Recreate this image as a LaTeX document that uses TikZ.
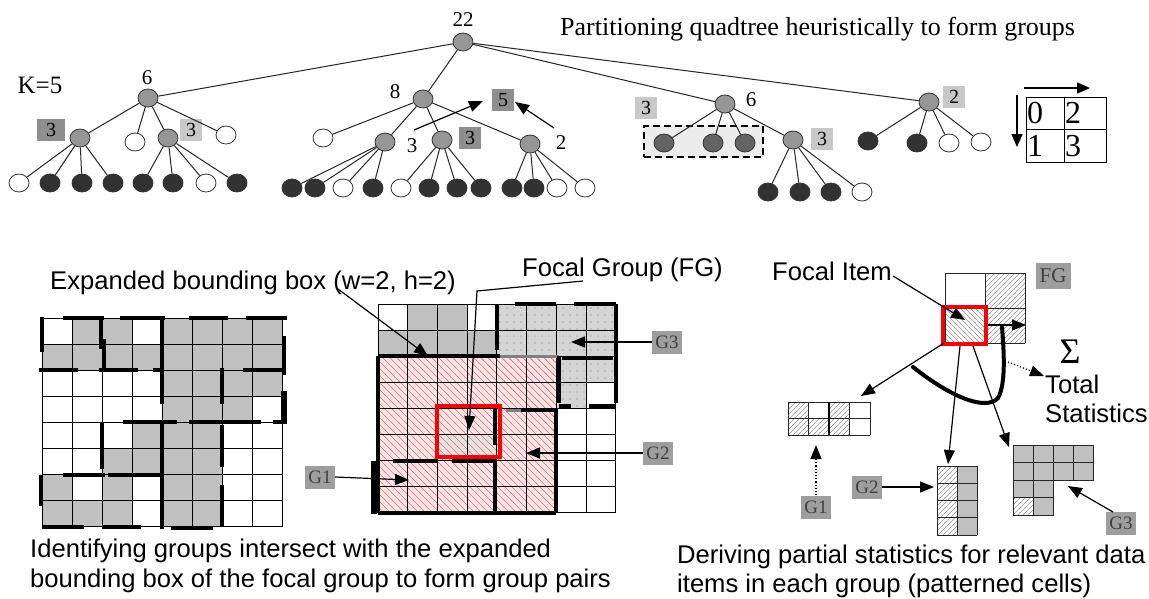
\documentclass[tikz,border=0pt]{standalone}
\usepackage{fontspec}
\setmainfont{Liberation Serif}
\setsansfont{Liberation Sans}
\usetikzlibrary{arrows.meta,patterns,shapes.geometric}
\definecolor{ngray}{RGB}{150,150,150}
\definecolor{nblack}{RGB}{50,50,50}
\definecolor{nmid}{RGB}{100,100,100}
\definecolor{boxdark}{RGB}{142,142,142}
\definecolor{boxlight}{RGB}{200,200,200}
\definecolor{gboxc}{RGB}{158,158,158}
\definecolor{cellgray}{RGB}{192,192,192}
\definecolor{dotgray}{RGB}{212,212,212}
\definecolor{pinkbg}{RGB}{248,230,230}
\definecolor{hatchred}{RGB}{220,115,115}
\pgfdeclarepatternformonly{fwdhatch}{\pgfqpoint{-1pt}{-1pt}}{\pgfqpoint{6pt}{6pt}}{\pgfqpoint{5pt}{5pt}}{\pgfsetlinewidth{0.6pt}\pgfpathmoveto{\pgfqpoint{-0.5pt}{-0.5pt}}\pgfpathlineto{\pgfqpoint{5.5pt}{5.5pt}}\pgfusepath{stroke}}
\pgfdeclarepatternformonly{bwdhatch}{\pgfqpoint{-1pt}{-1pt}}{\pgfqpoint{6pt}{6pt}}{\pgfqpoint{5pt}{5pt}}{\pgfsetlinewidth{0.6pt}\pgfpathmoveto{\pgfqpoint{-0.5pt}{5.5pt}}\pgfpathlineto{\pgfqpoint{5.5pt}{-0.5pt}}\pgfusepath{stroke}}
\pgfdeclarepatternformonly{redhatch}{\pgfqpoint{-1pt}{-1pt}}{\pgfqpoint{8pt}{8pt}}{\pgfqpoint{7pt}{7pt}}{\pgfsetlinewidth{0.7pt}\pgfpathmoveto{\pgfqpoint{-0.5pt}{7.5pt}}\pgfpathlineto{\pgfqpoint{7.5pt}{-0.5pt}}\pgfusepath{stroke}}
\pgfdeclarepatternformonly{sparsedots}{\pgfqpoint{-1pt}{-1pt}}{\pgfqpoint{8pt}{8pt}}{\pgfqpoint{7pt}{7pt}}{\pgfpathcircle{\pgfqpoint{3pt}{3pt}}{0.55pt}\pgfusepath{fill}}
\newcommand{\thickH}[4][]{\draw[thickseg,#1] ({\gx+\gw*(#2)},{\gy+\gh*(#4)}) -- ({\gx+\gw*(#3)},{\gy+\gh*(#4)});}
\newcommand{\thickV}[4][]{\draw[thickseg,#1] ({\gx+\gw*(#4)},{\gy+\gh*(#2)}) -- ({\gx+\gw*(#4)},{\gy+\gh*(#3)});}
\newcommand{\cellfill}[3]{\fill[#1] ({\gx+\gw*(#2)},{\gy+\gh*(#3)}) rectangle ++(\gw,\gh);}
\newcommand{\cellpat}[3]{\path[#1] ({\gx+\gw*(#2)},{\gy+\gh*(#3)}) rectangle ++(\gw,\gh);}
\newcommand{\gridlines}[3][gridline]{\foreach \i in {0,...,#2}{\draw[#1] ({\gx+\gw*\i},\gy) -- ++(0,{#3*\gh});}\foreach \j in {0,...,#3}{\draw[#1] (\gx,{\gy+\gh*\j}) -- ++({#2*\gw},0);}}
\tikzset{
  edge/.style={line width=1pt, black!85},
  gn/.style={ellipse, draw=black!80, line width=0.8pt, fill=ngray, minimum width=20pt, minimum height=18pt, inner sep=0pt},
  bn/.style={gn, fill=nblack},
  wn/.style={gn, fill=white},
  mn/.style={gn, fill=nmid},
  dbox/.style={fill=boxdark, minimum width=22pt, minimum height=22pt, inner sep=0pt, font=\fontsize{20}{20}\selectfont},
  lbox/.style={dbox, fill=boxlight},
  num/.style={font=\fontsize{21}{21}\selectfont, inner sep=0pt},
  gbox/.style={fill=gboxc, minimum width=30pt, minimum height=23pt, inner sep=0pt, font=\fontsize{19}{19}\selectfont, text=black!75},
  sans/.style={font=\sffamily\fontsize{25.6}{30}\selectfont, inner sep=0pt, anchor=base west},
  arr/.style={line width=1.2pt, -{Triangle[length=14pt,width=11pt]}},
  darr/.style={line width=1.2pt, dotted, -{Triangle[length=14pt,width=11pt]}},
  thickseg/.style={line width=4pt, line cap=butt},
  gridline/.style={line width=0.8pt},
  smallgrid/.style={line width=0.8pt, black!85},
}
\begin{document}
\begin{tikzpicture}[x=1pt,y=-1pt]
\useasboundingbox (0,0) rectangle (1149,598);
\fill[white] (0,0) rectangle (1149,598);

% ================= TOP TREE =================
\node[anchor=base west, inner sep=0pt, font=\fontsize{26}{26}\selectfont] (title) at (560,35) {Partitioning quadtree heuristically to form groups};
\node[inner sep=0pt, font=\fontsize{25}{25}\selectfont] (k5) at (40,85) {K=5};

\node[gn] (root) at (463,42) {};
\node[num] (l22) at (463,20) {22};

% left subtree
\node[gn] (a) at (148,98) {};
\node[num] (la) at (147,78) {6};
\node[gn] (a1) at (80,138) {};
\node[dbox, minimum width=28pt] (la1) at (51,130) {3};
\node[wn] (a2) at (135,142) {};
\node[gn] (a3) at (168,138) {};
\node[lbox] (la3) at (191,130) {3};
\node[wn] (a4) at (226,135) {};
\foreach \n/\x/\s in {a11/19/wn,a12/50/bn,a13/82/bn,a14/113/bn}{\node[\s] (\n) at (\x,183) {}; \draw[edge] (a1) -- (\n);}
\foreach \n/\x/\s in {a31/143/bn,a32/173/bn,a33/206/wn,a34/237/bn}{\node[\s] (\n) at (\x,183) {}; \draw[edge] (a3) -- (\n);}
\foreach \n in {a1,a2,a3,a4}{\draw[edge] (a) -- (\n);}

% middle subtree
\node[gn] (b) at (423,99) {};
\node[num] (lb) at (395,92) {8};
\node[wn] (b1) at (323,138) {};
\node[gn] (b2) at (385,142) {};
\node[gn] (b3) at (442,140) {};
\node[gn] (b4) at (530,144) {};
\node[num] (lb2) at (412,146) {3};
\node[dbox] (lb3) at (470,138) {3};
\node[num] (lb4) at (561,143) {2};
\node[dbox] (five) at (503,100) {5};
\foreach \n in {b1,b2,b3,b4}{\draw[edge] (b) -- (\n);}
\foreach \n/\x/\s in {b21/292/bn,b22/315/bn,b23/343/wn,b24/373/bn}{\node[\s] (\n) at (\x,188) {}; \draw[edge] (b2) -- (\n);}
\foreach \n/\x/\s in {b31/401/wn,b32/429/bn,b33/457/bn,b34/481/bn}{\node[\s] (\n) at (\x,188) {}; \draw[edge] (b3) -- (\n);}
\foreach \n/\x/\s in {b41/512/bn,b42/534/bn,b43/557/wn,b44/585/wn}{\node[\s] (\n) at (\x,188) {}; \draw[edge] (b4) -- (\n);}
\coordinate (s3) at (414,130);
\coordinate (t3) at (483,101);
\coordinate (s2) at (554,128);
\coordinate (t2) at (515,102);
\draw[arr] (s3) -- (t3);
\draw[arr] (s2) -- (t2);

% right subtree 6
\node[gn] (c) at (725,104) {};
\node[num] (lc) at (751,100) {6};
\node[lbox] (lc0) at (646,108) {3};
\node[draw, dashed, dash pattern=on 7pt off 4pt, line width=1.6pt, fill=gray!15, minimum width=119pt, minimum height=31pt, inner sep=0pt] (dbx) at (703.5,141.5) {};
\node[mn] (c1) at (664,143) {};
\node[mn] (c2) at (713,143) {};
\node[mn] (c3) at (745,143) {};
\node[gn] (c4) at (793,140) {};
\node[lbox] (lc4) at (822,139) {3};
\foreach \n in {c1,c2,c3,c4}{\draw[edge] (c) -- (\n);}
\foreach \n/\x/\s in {c41/768/bn,c42/800/bn,c43/831/bn,c44/862/wn}{\node[\s] (\n) at (\x,192) {}; \draw[edge] (c4) -- (\n);}

% right subtree 2
\node[gn] (d) at (929,102) {};
\node[lbox] (ld) at (954,97) {2};
\foreach \n/\x/\y/\s in {d1/868/141/bn,d2/917/143/bn,d3/949/143/wn,d4/981/142/wn}{\node[\s] (\n) at (\x,\y) {}; \draw[edge] (d) -- (\n);}

\foreach \n in {a,b,c,d}{\draw[edge] (root) -- (\n);}

% quadrant order box
\draw[line width=1pt] (1026,97) rectangle (1106,162);
\draw[line width=1pt] (1064,97) -- (1064,162);
\draw[line width=1pt] (1026,129) -- (1106,129);
\foreach \n/\x/\y/\t in {q0/1027/123/0,q2/1065/123/2,q1/1027/156/1,q3/1065/156/3}{\node[anchor=base west, inner sep=0pt, font=\fontsize{32}{32}\selectfont] (\n) at (\x,\y) {\t};}
\coordinate (qa1) at (1024,88);
\coordinate (qa2) at (1090,88);
\coordinate (qb1) at (1017,95);
\coordinate (qb2) at (1017,147);
\draw[line width=1.4pt, -{Triangle[length=13pt,width=11pt]}] (qa1) -- (qa2);
\draw[line width=1.4pt, -{Triangle[length=13pt,width=11pt]}] (qb1) -- (qb2);

% ================= LEFT GRID =================
\def\gx{42}\def\gy{318}\def\gw{30}\def\gh{26.1}
\foreach \c/\r in {1/0,2/0,4/0,5/0,6/0,7/0,0/1,1/1,2/1,3/1,4/1,5/1,6/1,7/1,4/2,5/2,6/2,7/2,4/3,5/3,6/3,3/4,4/4,5/4,2/5,3/5,4/5,5/5,0/6,2/6,4/6,5/6,0/7,1/7,2/7,4/7,5/7}{\cellfill{cellgray}{\c}{\r}}
\gridlines{8}{8}
\thickH{0.7}{2.05}{0} \thickH{2.6}{4.1}{0} \thickH{4.9}{6.2}{0} \thickH{6.8}{8.15}{0}
\thickV{-0.05}{1.3}{0}
\thickV{0}{1.2}{1.95} \thickV{0.8}{1.9}{2.08}
\thickV{0}{3.3}{4}
\thickV{0.7}{2.2}{8.05} \thickV[line width=6pt]{2.8}{4}{8.05}
\thickH{-0.1}{1.2}{2} \thickH{1.9}{3.2}{2} \thickH{3.7}{4}{2} \thickH{6.7}{8}{2}
\thickV{1.9}{3.3}{6}
\thickH{2.7}{4.5}{4} \thickH{4.9}{7.3}{4} \thickH{7.7}{8.15}{4}
\thickV{4}{5.8}{2}
\thickV{4}{8.1}{4}
\thickV{4.1}{5.7}{6} \thickV{6.4}{8}{6}
\thickH{0.7}{2.1}{6} \thickH{2.2}{4}{6}
\thickV{6}{7.2}{-0.05}
\thickH{0}{1.4}{8} \thickH{2}{3.3}{8} \thickH{4.3}{5.7}{8.05}

% ================= MIDDLE GRID =================
\def\gx{378}\def\gy{304}\def\gw{29.7}\def\gh{26.1}
\foreach \c/\r in {1/0,2/0,0/1,1/1,2/1,3/1}{\cellfill{cellgray}{\c}{\r}}
\foreach \c/\r in {4/0,5/0,6/0,7/0,4/1,5/1,6/1,7/1,6/2,7/2,6/3}{\cellfill{dotgray}{\c}{\r}\cellpat{pattern=sparsedots, pattern color=gray}{\c}{\r}}
\fill[pinkbg] (\gx,{\gy+2*\gh}) rectangle ++({6*\gw},{6*\gh});
\foreach \c/\r in {2/5,3/5}{\cellfill{gray!22}{\c}{\r}}
\path[pattern=redhatch, pattern color=hatchred] (\gx,{\gy+2*\gh}) rectangle ++({6*\gw},{6*\gh});
\gridlines{8}{8}
\thickV{0}{1.75}{4}
\thickH{4.6}{6}{0} \thickH{6.6}{8}{0}
\thickV{0}{3.8}{8}
\thickH{0}{4.1}{2}
\thickH[gray, line width=3pt]{4.1}{6.1}{2}
\thickH{6.2}{7.9}{2.08}
\thickV{2}{3.8}{6.1}
\thickH{6.1}{6.5}{3.9} \thickH{7.1}{8}{3.9}
\thickV{2}{8}{0}
\thickV[line width=6pt]{6}{8.05}{-0.12}
\thickH{0}{6}{8}
\thickV{4}{8}{6}
\thickH[gray, line width=3pt]{4.3}{4.8}{4.08}
\thickH{4.8}{6}{4.08}
\thickV{3.9}{5.4}{3.95}
\thickV{6}{8}{3.95}
\thickH{0.5}{2}{6} \thickH{2.5}{4}{6}
\draw[red, line width=4pt] ({\gx+2*\gw},{\gy+3.92*\gh}) rectangle ({\gx+4.1*\gw},{\gy+5.85*\gh});

% labels and arrows for middle grid
\node[sans] (ebb) at (50,289) {Expanded bounding box (w=2, h=2)};
\coordinate (ebbs) at (338,289);
\coordinate (ebbt) at (428,356);
\draw[arr] (ebbs) -- (ebbt);
\node[sans] (fgt) at (522,276) {Focal Group (FG)};
\coordinate (fgs) at (583,281);
\coordinate (fgm) at (477,291);
\coordinate (fgtip) at (469,430);
\draw[arr] (fgs) -- (fgm) -- (fgtip);
\node[gbox] (g3m) at (667,342) {G3};
\node[gbox] (g2m) at (658,453) {G2};
\node[gbox] (g1m) at (320,477) {G1};
\coordinate (g3t) at (571,342);
\coordinate (g2t) at (526,453);
\coordinate (g1t) at (409,480);
\draw[arr] (g3m.west) -- (g3t);
\draw[arr] (g2m.west) -- (g2t);
\draw[arr] (g1m.east) -- (g1t);

% ================= RIGHT PART =================
% FG grid
\def\gx{945}\def\gy{273}\def\gw{40}\def\gh{35}
\cellpat{pattern=fwdhatch, pattern color=gray!80}{1}{0}
\cellpat{pattern=fwdhatch, pattern color=gray!80}{1}{1}
\cellpat{pattern=bwdhatch, pattern color=gray!80}{0}{1}
\gridlines[smallgrid]{2}{2}
\draw[red, line width=4pt] (943,307) rectangle (986,344);
\node[gbox, minimum width=35pt, minimum height=26pt, font=\fontsize{21}{21}\selectfont] (fgl) at (1053,276) {FG};
\node[sans] (fit) at (772,280) {Focal Item};
\coordinate (fis) at (893,276);
\coordinate (fitip) at (965,320);
\draw[arr] (fis) -- (fitip);

% G1 grid
\def\gx{788}\def\gy{402}\def\gw{20.5}\def\gh{16.5}
\foreach \c/\r in {0/0,2/0,0/1,1/1,2/1}{\cellpat{pattern=fwdhatch, pattern color=gray!80}{\c}{\r}}
\gridlines[smallgrid]{4}{2}
\draw[line width=2pt] (829,402) -- (829,435);
\node[gbox] (g1r) at (816,507) {G1};
\coordinate (g1rt) at (816,445);
\draw[darr] (g1r.north) -- (g1rt);

% G2 grid
\def\gx{937}\def\gy{466}\def\gw{20}\def\gh{17.25}
\foreach \r in {0,1,2,3}{\cellpat{pattern=fwdhatch, pattern color=gray!80}{0}{\r}\cellfill{cellgray}{1}{\r}}
\gridlines[smallgrid]{2}{4}
\node[gbox] (g2r) at (867,487) {G2};
\coordinate (g2rt) at (934,487);
\draw[arr] (g2r.east) -- (g2rt);

% G3 grid
\def\gx{1013}\def\gy{445}\def\gw{20}\def\gh{17.5}
\foreach \c/\r in {0/0,1/0,2/0,3/0,0/1,1/1,2/1,3/1,0/2,1/2,1/3}{\cellfill{cellgray}{\c}{\r}}
\cellpat{pattern=fwdhatch, pattern color=gray!80}{0}{3}
\draw[smallgrid] (1013,445) rectangle (1093,480);
\draw[smallgrid] (1013,462.5) -- (1093,462.5);
\foreach \x in {1033,1053,1073}{\draw[smallgrid] (\x,445) -- (\x,480);}
\draw[smallgrid] (1013,480) rectangle (1053,515);
\draw[smallgrid] (1013,497.5) -- (1053,497.5);
\draw[smallgrid] (1033,480) -- (1033,515);
\node[gbox] (g3r) at (1121,523) {G3};
\coordinate (g3rs) at (1113,512);
\coordinate (g3rt) at (1068,486);
\draw[arr] (g3rs) -- (g3rt);

% arrows from focal item
\coordinate (fa0) at (944,343);
\coordinate (fa1) at (960,346);
\coordinate (fa2) at (973,346);
\coordinate (fa0t) at (861,396);
\coordinate (fa1t) at (948,464);
\coordinate (fa2t) at (1009,447);
\draw[arr] (fa0) -- (fa0t);
\draw[arr] (fa1) -- (fa1t);
\draw[arr] (fa2) -- (fa2t);

% summation curve and arrows
\coordinate (cv0) at (913,367);
\coordinate (cv1) at (998,398);
\coordinate (cv2) at (1002,327);
\draw[line width=4pt, line cap=round] (cv0) .. controls (948,395) and (985,412) .. (cv1) .. controls (1006,384) and (1004,352) .. (cv2);
\coordinate (sa0) at (988,325);
\coordinate (sa1) at (1026,325);
\draw[arr] (sa0) -- (sa1);
\node[inner sep=0pt, font=\fontsize{36}{36}\selectfont] (sig) at (1070,352) {Σ};
\coordinate (ds0) at (1008,362);
\coordinate (ds1) at (1044,376);
\draw[darr] (ds0) -- (ds1);
\node[sans] (tot) at (1045,393) {Total};
\node[sans] (stat) at (1045,422) {Statistics};

% ================= BOTTOM CAPTIONS =================
\node[sans] (capl1) at (30,557) {Identifying groups intersect with the expanded};
\node[sans] (capl2) at (30,587) {bounding box of the focal group to form group pairs};
\node[sans] (capr1) at (677,563) {Deriving partial statistics for relevant data};
\node[sans] (capr2) at (677,592) {items in each group (patterned cells)};
\end{tikzpicture}
\end{document}
